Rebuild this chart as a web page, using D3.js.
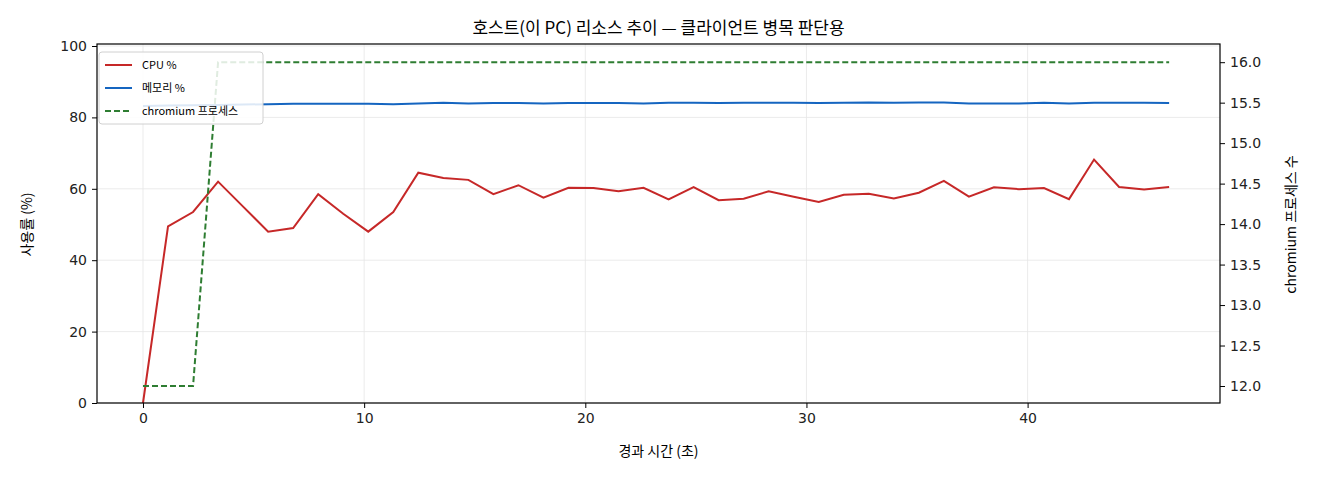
<!DOCTYPE html>
<html><head><meta charset="utf-8">
<script src="https://cdn.jsdelivr.net/npm/d3@7"></script>
<style>body{margin:0;background:#fff;font-family:"Noto Sans CJK KR","DejaVu Sans",sans-serif;}</style>
</head><body><div id="chart"></div>
<script>
var step = 46.4 / 41;
var cpu = [0,49.5,53.5,62,55,48,49,58.5,53,48,53.5,64.5,63,62.5,58.5,61,57.5,60.3,60.2,59.3,
  60.3,57,60.5,56.8,57.2,59.3,57.8,56.3,58.3,58.6,57.3,58.9,62.2,57.8,60.4,59.9,60.2,57.1,68.2,60.5,59.8,60.5];
var mem = [83.2,83.3,83.4,83.5,83.6,83.7,83.8,83.8,83.8,83.8,83.7,83.9,84.1,83.9,84.0,84.0,83.9,84.0,84.0,84.0,
  83.9,84.1,84.1,84.0,84.1,84.1,84.1,84.0,84.1,84.2,84.1,84.2,84.2,83.9,83.9,83.9,84.1,83.9,84.1,84.1,84.1,84.0];
var procs = [12,12,12,16,16,16,16,16,16,16,16,16,16,16,16,16,16,16,16,16,
  16,16,16,16,16,16,16,16,16,16,16,16,16,16,16,16,16,16,16,16,16,16];
var times = cpu.map(function(d, i) { return i * step; });
var xTicks = [0,10,20,30,40];
var yTicks = [0,20,40,60,80,100];
var y2Ticks = [12,12.5,13,13.5,14,14.5,15,15.5,16];

var W = 1320, H = 480, L = 97, R = 1220, T = 44, B = 403;
var svg = d3.select("#chart").append("svg").attr("width", W).attr("height", H);

var x = d3.scaleLinear().domain([-2.08, 48.7]).range([L, R]);
var y = d3.scaleLinear().domain([0, 100]).range([B, 46]);
var y2 = d3.scaleLinear().domain([11.79, 16.2]).range([B, 46]);

var grid = svg.append("g").attr("stroke", "#e6e6e6").attr("stroke-width", 0.8);
xTicks.forEach(function(t) { grid.append("line").attr("x1", x(t)).attr("x2", x(t)).attr("y1", T).attr("y2", B); });
yTicks.forEach(function(t) { grid.append("line").attr("x1", L).attr("x2", R).attr("y1", y(t)).attr("y2", y(t)); });

function fmt(g) {
  g.selectAll("text").attr("font-size", 14).attr("fill", "#222").attr("font-family", "DejaVu Sans");
  g.select(".domain").remove();
}
svg.append("g").attr("transform", "translate(0," + B + ")")
  .call(d3.axisBottom(x).tickValues(xTicks).tickSize(5).tickPadding(5)).call(fmt);
svg.append("g").attr("transform", "translate(" + L + ",0)")
  .call(d3.axisLeft(y).tickValues(yTicks).tickSize(5).tickPadding(5)).call(fmt);
svg.append("g").attr("transform", "translate(" + R + ",0)")
  .call(d3.axisRight(y2).tickValues(y2Ticks).tickFormat(d3.format(".1f")).tickSize(5).tickPadding(5)).call(fmt);

var lineL = function(vals, sc) {
  return d3.line().x(function(d, i) { return x(times[i]); }).y(function(d) { return sc(d); })(vals);
};
svg.append("path").attr("d", lineL(mem, y)).attr("fill", "none").attr("stroke", "#1565c0").attr("stroke-width", 2);
svg.append("path").attr("d", lineL(cpu, y)).attr("fill", "none").attr("stroke", "#c62828").attr("stroke-width", 2);
svg.append("path").attr("d", lineL(procs, y2)).attr("fill", "none").attr("stroke", "#2e7d32")
  .attr("stroke-width", 2).attr("stroke-dasharray", "6,3");

svg.append("rect").attr("x", L).attr("y", T).attr("width", R - L).attr("height", B - T)
  .attr("fill", "none").attr("stroke", "#000").attr("stroke-width", 1.2);

svg.append("text").attr("x", (L + R) / 2).attr("y", 34).attr("text-anchor", "middle")
  .attr("font-size", 17).text("호스트(이 PC) 리소스 추이 — 클라이언트 병목 판단용");
svg.append("text").attr("x", (L + R) / 2).attr("y", 456).attr("text-anchor", "middle")
  .attr("font-size", 14).text("경과 시간 (초)");
svg.append("text").attr("transform", "translate(32," + (B + 46) / 2 + ") rotate(-90)")
  .attr("text-anchor", "middle").attr("font-size", 14).text("사용률 (%)");
svg.append("text").attr("transform", "translate(1296," + (B + 46) / 2 + ") rotate(-90)")
  .attr("text-anchor", "middle").attr("font-size", 14).text("chromium 프로세스 수");

var leg = [["CPU %", "#c62828", null], ["메모리 %", "#1565c0", null], ["chromium 프로세스", "#2e7d32", "6,3"]];
var lg = svg.append("g").attr("transform", "translate(99,52)");
lg.append("rect").attr("width", 164).attr("height", 72).attr("rx", 3)
  .attr("fill", "#fff").attr("fill-opacity", 0.85).attr("stroke", "#d0d0d0");
leg.forEach(function(d, i) {
  var yy = 13 + i * 23;
  lg.append("line").attr("x1", 6).attr("x2", 33).attr("y1", yy).attr("y2", yy)
    .attr("stroke", d[1]).attr("stroke-width", 2).attr("stroke-dasharray", d[2]);
  lg.append("text").attr("x", 43).attr("y", yy + 4).attr("font-size", 11).text(d[0]);
});
</script></body></html>
